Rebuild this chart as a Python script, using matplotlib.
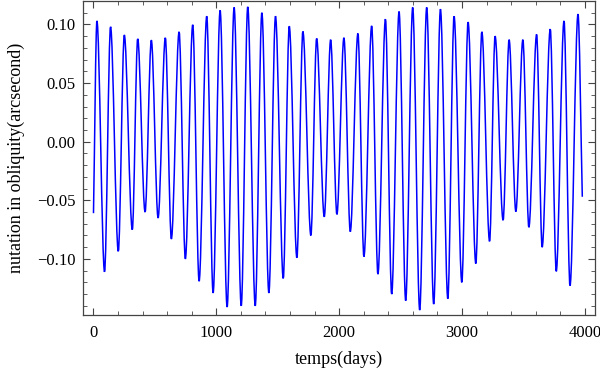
import matplotlib
matplotlib.use('Agg')
import matplotlib.pyplot as plt
from matplotlib.path import Path
from matplotlib.patches import PathPatch
from matplotlib.ticker import MultipleLocator, FuncFormatter

# Extrema of the nutation curve (days, arcsec)
days = [0, 28, 90, 139, 202, 251, 316, 360, 420, 471, 526, 585, 634, 697, 748,
        808, 860, 922, 974, 1031, 1088, 1145, 1203, 1256, 1317, 1371, 1428,
        1482, 1545, 1594, 1656, 1705, 1770, 1817, 1879, 1931, 1982, 2039,
        2091, 2153, 2202, 2265, 2316, 2377, 2428, 2488, 2542, 2599, 2656,
        2713, 2770, 2825, 2885, 2936, 2999, 3050, 3113, 3162, 3225, 3270,
        3335, 3384, 3439, 3496, 3545, 3608, 3653, 3719, 3768, 3831, 3880,
        3945, 3980]
nutation = [-0.061, 0.103, -0.111, 0.098, -0.0935, 0.091, -0.075, 0.0877,
            -0.060, 0.0866, -0.065, 0.0886, -0.083, 0.0937, -0.100, 0.0997,
            -0.119, 0.107, -0.129, 0.112, -0.141, 0.1145, -0.140, 0.115,
            -0.140, 0.110, -0.129, 0.107, -0.1166, 0.0985, -0.099, 0.094,
            -0.080, 0.088, -0.064, 0.087, -0.062, 0.0886, -0.0767, 0.0923,
            -0.098, 0.0988, -0.113, 0.1045, -0.130, 0.111, -0.1356, 0.1145,
            -0.1436, 0.1145, -0.1385, 0.113, -0.134, 0.107, -0.120, 0.102,
            -0.104, 0.0937, -0.085, 0.090, -0.067, 0.087, -0.0596, 0.087,
            -0.073, 0.0915, -0.090, 0.096, -0.1106, 0.103, -0.1228, 0.1088,
            -0.047]

plt.rcParams['font.family'] = ['Liberation Serif', 'DejaVu Serif']
plt.rcParams['font.size'] = 12

fig = plt.figure(figsize=(6, 3.73), dpi=100)
ax = fig.add_axes([0.138, 0.155, 0.854, 0.842])

# smooth line through the extrema: cubic bezier pieces, flat at each peak/trough
verts = [(days[0], nutation[0])]
codes = [Path.MOVETO]
last = len(days) - 1
for i in range(last):
    t0, y0 = days[i], nutation[i]
    t1, y1 = days[i + 1], nutation[i + 1]
    dt = t1 - t0
    c0 = y0 if i > 0 else y0 + (y1 - y0) / 3
    c1 = y1 if i + 1 < last else y1 - (y1 - y0) / 3
    verts += [(t0 + dt / 3, c0), (t1 - dt / 3, c1), (t1, y1)]
    codes += [Path.CURVE4] * 3
ax.add_patch(PathPatch(Path(verts, codes), fill=False, edgecolor='#0000ff', linewidth=1.1))

ax.set_xlim(-87, 4085)
ax.set_ylim(-0.148, 0.1199)

# Mathematica-like frame: ticks inside on every side
ax.xaxis.set_major_locator(MultipleLocator(1000))
ax.xaxis.set_minor_locator(MultipleLocator(200))
ax.yaxis.set_major_locator(MultipleLocator(0.05))
ax.yaxis.set_minor_locator(MultipleLocator(0.01))
ax.yaxis.set_major_formatter(FuncFormatter(lambda v, p: f'{v:.2f}'.replace('-', '\u2212')))
ax.tick_params(which='both', direction='in', top=True, right=True, color='#444444')
ax.tick_params(which='major', length=5, width=0.8)
ax.tick_params(which='minor', length=3, width=0.6)
ax.tick_params(axis='x', pad=7)
ax.tick_params(axis='y', pad=5)
for s in ax.spines.values():
    s.set_color('#444444')
    s.set_linewidth(0.9)

ax.set_xlabel('temps(days)', fontsize=13, labelpad=7)
ax.set_ylabel('nutation in obliquity(arcsecond)', fontsize=13, labelpad=9)

fig.savefig('out.png', dpi=100)
